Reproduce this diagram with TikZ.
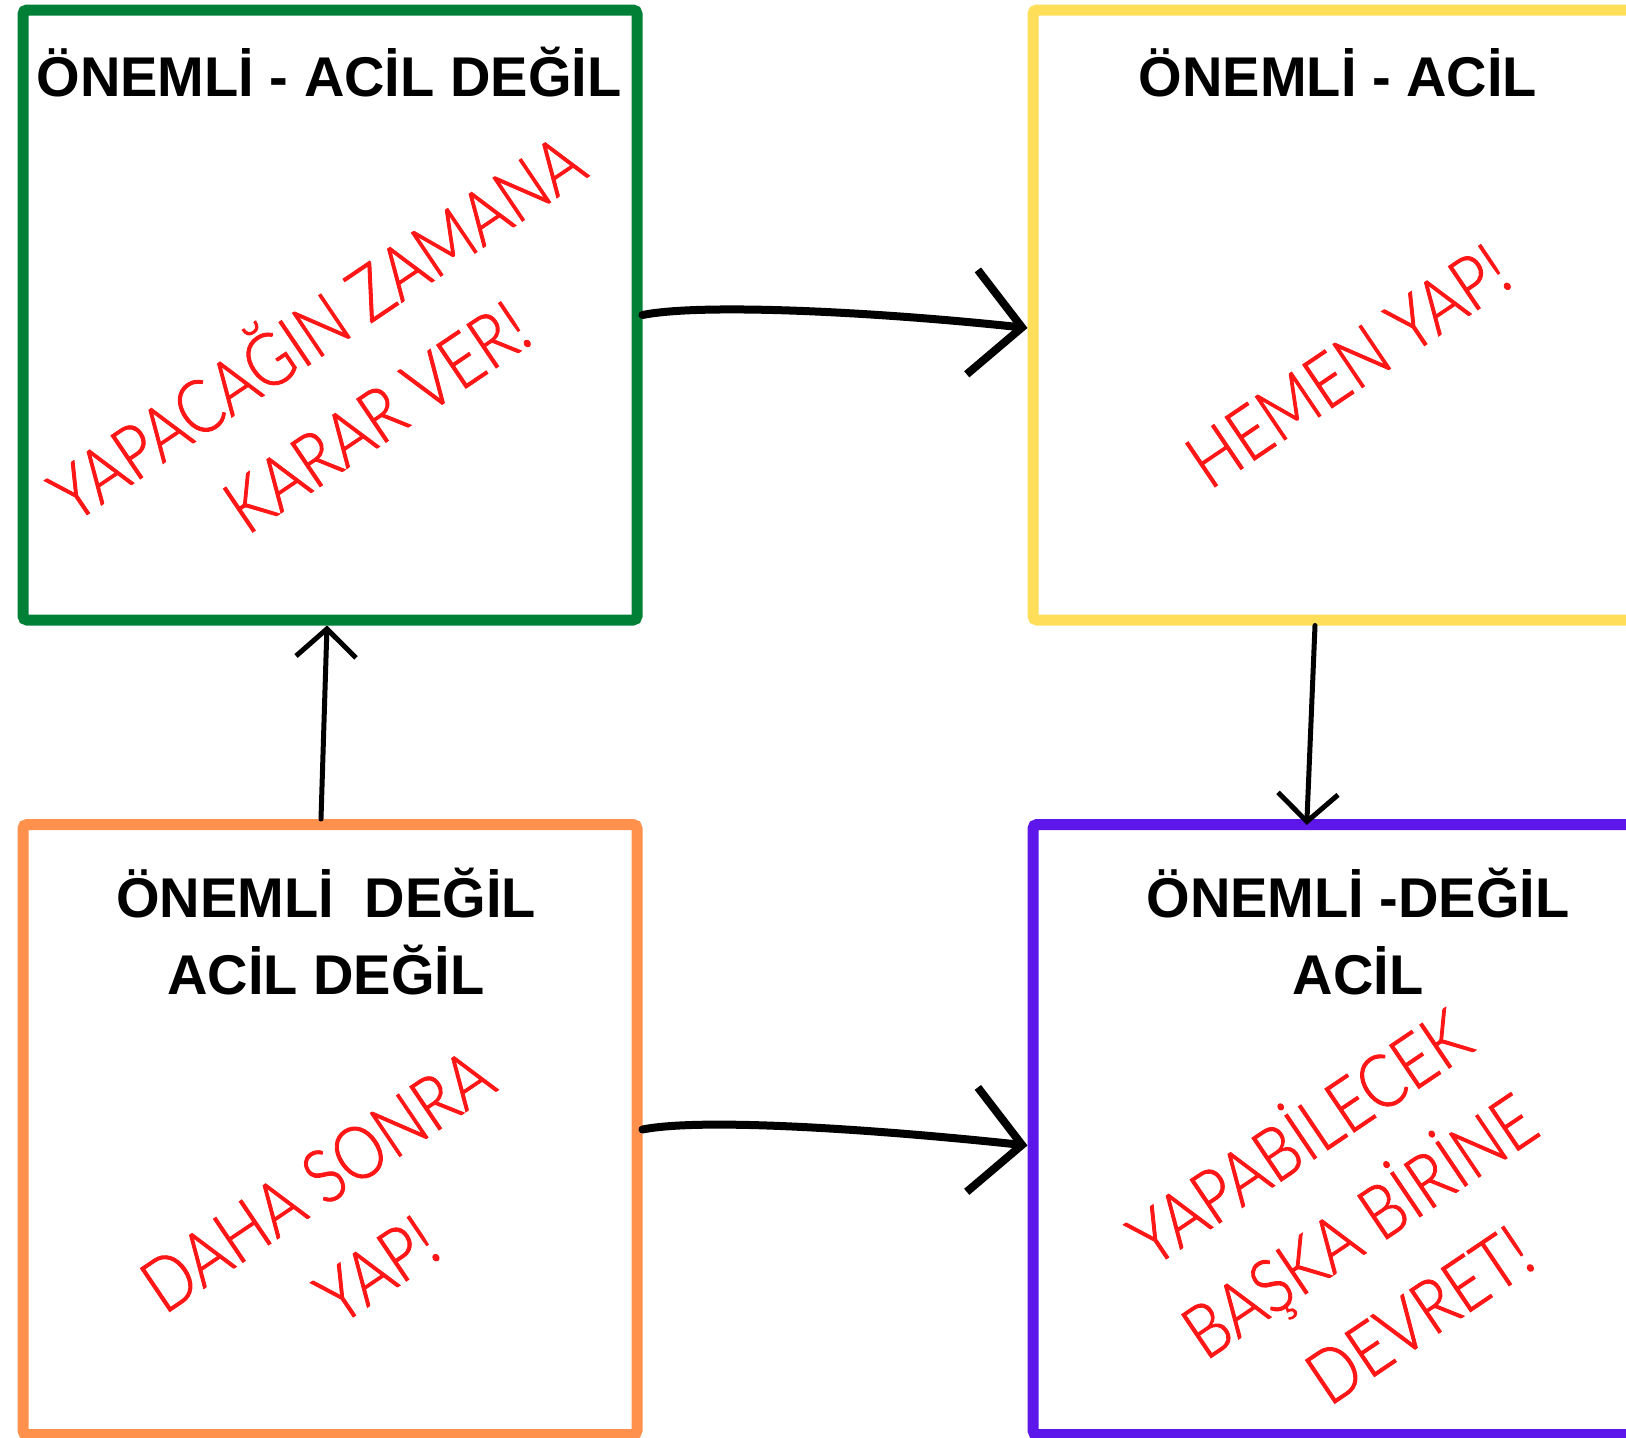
\documentclass[tikz,border=0pt]{standalone}
\usepackage{fontspec}
\setmainfont{Liberation Sans}
\newfontfamily\handfont[FakeStretch=0.85, FakeBold=1.2]{Lato Light}
\usepackage{tikz}
\usetikzlibrary{arrows.meta}
\definecolor{boxgreen}{RGB}{0,128,55}
\definecolor{boxyellow}{RGB}{255,222,89}
\definecolor{boxorange}{RGB}{255,145,77}
\definecolor{boxpurple}{RGB}{94,23,235}
\definecolor{handred}{RGB}{255,22,22}

\begin{document}
\begin{tikzpicture}[x=1pt, y=-1pt,
        quadrant/.style={draw, line width=11pt, rounded corners=4pt, minimum width=614pt, minimum height=610pt, inner sep=0pt},
        headline/.style={font=\fontsize{56}{77}\selectfont\bfseries, align=center, inner sep=0pt},
        advice/.style={font=\handfont\fontsize{74}{107}\selectfont, text=handred, align=center, rotate=34, inner sep=0pt},
        brush/.style={line width=8pt, line cap=round, -{Straight Barb[length=50pt, width=105pt]}},
        thinbrush/.style={line width=5pt, line cap=round, -{Straight Barb[length=28pt, width=60pt]}}]

                \useasboundingbox (0,0) rectangle (1626,1438);
                \clip (0,0) rectangle (1626,1438);

                % Boxes
                \node at (330,315) (plan) [quadrant, boxgreen] {};
                \node at (1340,315) (now) [quadrant, boxyellow] {};
                \node at (330,1129.5) (later) [quadrant, boxorange] {};
                \node at (1340,1129.5) (delegate) [quadrant, boxpurple] {};

                % Titles
                \node at (329,96) (plan_title) [headline, anchor=base] {ÖNEMLİ - ACİL DEĞİL};
                \node at (1338,96) (now_title) [headline, anchor=base] {ÖNEMLİ - ACİL};
                \node at (326,932) (later_title) [headline] {ÖNEMLİ\ \ DEĞİL\\ACİL DEĞİL};
                \node at (1358,932) (delegate_title) [headline] {ÖNEMLİ -DEĞİL\\ACİL};

                % Handwritten advice
                \node at (343,367) (plan_text) [advice] {YAPACAĞIN ZAMANA\\KARAR VER!};
                \node at (1348,366) (now_text) [advice] {HEMEN YAP!};
                \node at (347,1225) (later_text) [advice] {DAHA SONRA\\YAP!};
                \node at (1356,1221) (delegate_text) [advice] {YAPABİLECEK\\BAŞKA BİRİNE\\DEVRET!};

                % Arrows
                \draw[brush] (plan.east) .. controls +(60,-12) and +(-150,-16) .. ([yshift=-13pt]now.west);
                \draw[brush] (later.east) .. controls +(60,-12) and +(-150,-16) .. ([yshift=-16pt]delegate.west);
                \draw[thinbrush] ([xshift=-9pt]later.north) -- ([xshift=-3pt]plan.south);
                \draw[thinbrush, shorten >=-6pt] ([xshift=-25pt]now.south) -- ([xshift=-33pt]delegate.north);

            \end{tikzpicture}
\end{document}
